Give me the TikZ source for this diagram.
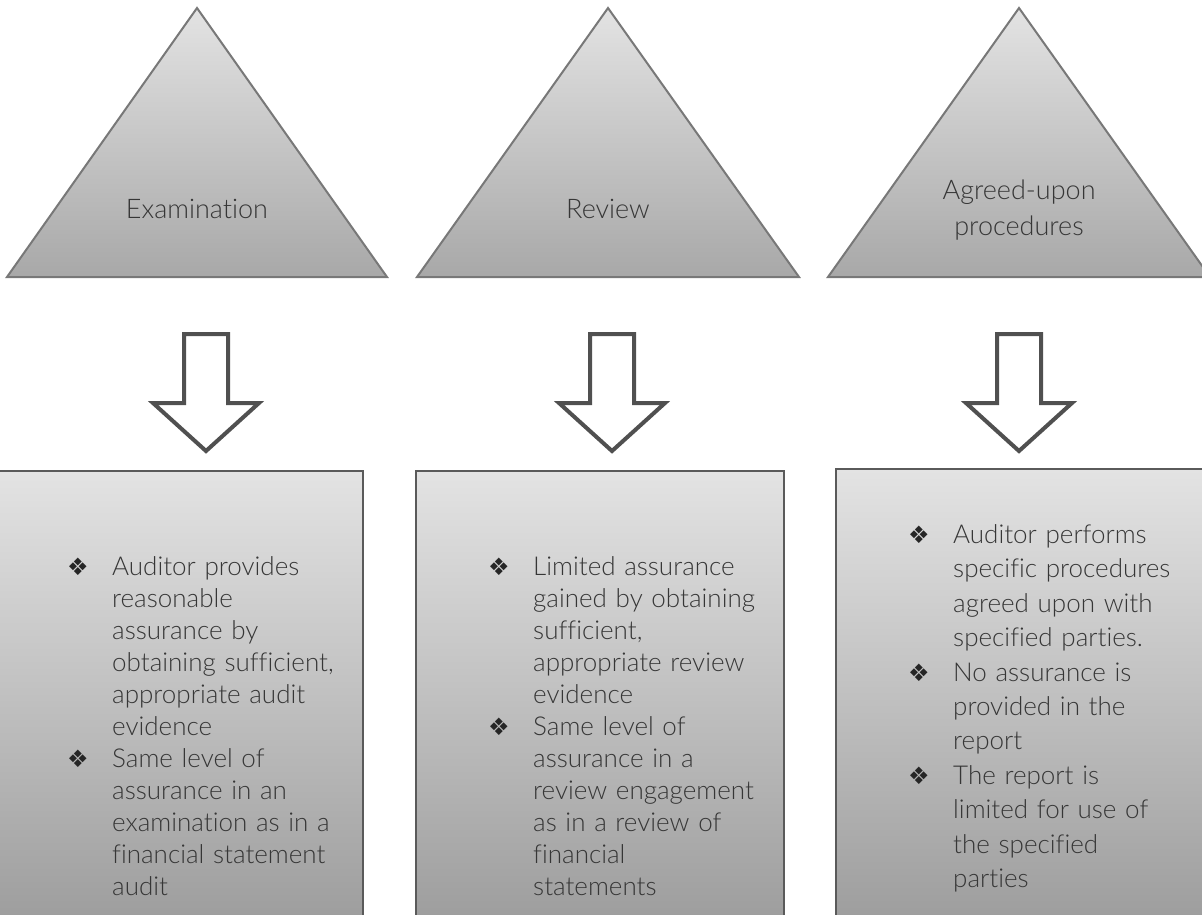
\documentclass[tikz,border=0pt]{standalone}
\usepackage{fontspec}
\setmainfont{Lato Light}[Ligatures={NoCommon}]
\newfontfamily\dejavu{DejaVu Sans}

\definecolor{txtgray}{HTML}{363636}
\definecolor{trigray}{HTML}{787878}
\definecolor{boxgray}{HTML}{5A5A5A}
\definecolor{arrgray}{HTML}{505050}
\definecolor{shadetop}{HTML}{E3E3E3}
\definecolor{tribot}{HTML}{A8A8A8}
\definecolor{boxbot}{HTML}{9C9C9C}

\newcommand{\bulletglyph}{{\color{black!85}\dejavu\fontsize{24}{24}\selectfont\char"2756}}
\newcommand{\bitem}[1]{\par\hangindent=45pt\hangafter=1\noindent
  \makebox[45pt][l]{\bulletglyph}{\let\\\newline #1}\par}

\begin{document}
\begin{tikzpicture}[x=1pt, y=-1pt,
  tri/.style={draw=trigray, line width=2pt, top color=shadetop, bottom color=tribot},
  box/.style={draw=boxgray, line width=2.5pt, top color=shadetop, bottom color=boxbot},
  blockarrow/.style={draw=arrgray, fill=white, line width=4pt, line join=miter},
  lbl/.style={font=\fontsize{27}{36}\selectfont, text=txtgray, inner sep=0pt, anchor=base},
  lst/.style={font=\fontsize{26}{32}\selectfont, text=txtgray, inner sep=0pt, anchor=base west, text width=330pt}]

\useasboundingbox (0,0) rectangle (1202,914);
\clip (0,0) rectangle (1202,914);

% ---------- Top: triangles ----------
\draw[tri] (197,8) -- (387,277) -- (7,277) -- cycle;
\draw[tri] (608,8) -- (799,277) -- (417,277) -- cycle;
\draw[tri] (1019,8) -- (1210,277) -- (828,277) -- cycle;

\node[lbl] (exam) at (197,218) {Examination};
\node[lbl] (rev) at (608,218) {Review};
\node[lbl, text width=220pt, align=center] (agreed) at (1019,199) {Agreed-upon\\procedures};

% ---------- Middle: block arrows ----------
\foreach \cx in {206,612,1019}
  \draw[blockarrow, shift={(\cx,0)}] (-22,334) -- (22,334) -- (22,403) -- (53,403)
    -- (0,451) -- (-53,403) -- (-22,403) -- cycle;

% ---------- Bottom: boxes ----------
\draw[box] (-5,471) rectangle (363,930);
\draw[box] (416,471) rectangle (784,930);
\draw[box] (836,469) rectangle (1215,930);

% Bullet lists
\node[lst] (exlist) at (67,543) {\raggedright
  \bitem{Auditor provides\\reasonable\\assurance by\\obtaining sufficient,\\appropriate audit\\evidence}
  \bitem{Same level of\\assurance in an\\examination as in a\\financial statement\\audit}};

\node[lst] (revlist) at (488,543) {\raggedright
  \bitem{Limited assurance\\gained by obtaining\\sufficient,\\appropriate review\\evidence}
  \bitem{Same level of\\assurance in a\\review engagement\\as in a review of\\financial\\statements}};

\node[lst, font=\fontsize{26}{34.4}\selectfont] (agrlist) at (908,509) {\raggedright
  \bitem{Auditor performs\\specific procedures\\agreed upon with\\specified parties.}
  \bitem{No assurance is\\provided in the\\report}
  \bitem{The report is\\limited for use of\\the specified\\parties}};

\end{tikzpicture}
\end{document}
